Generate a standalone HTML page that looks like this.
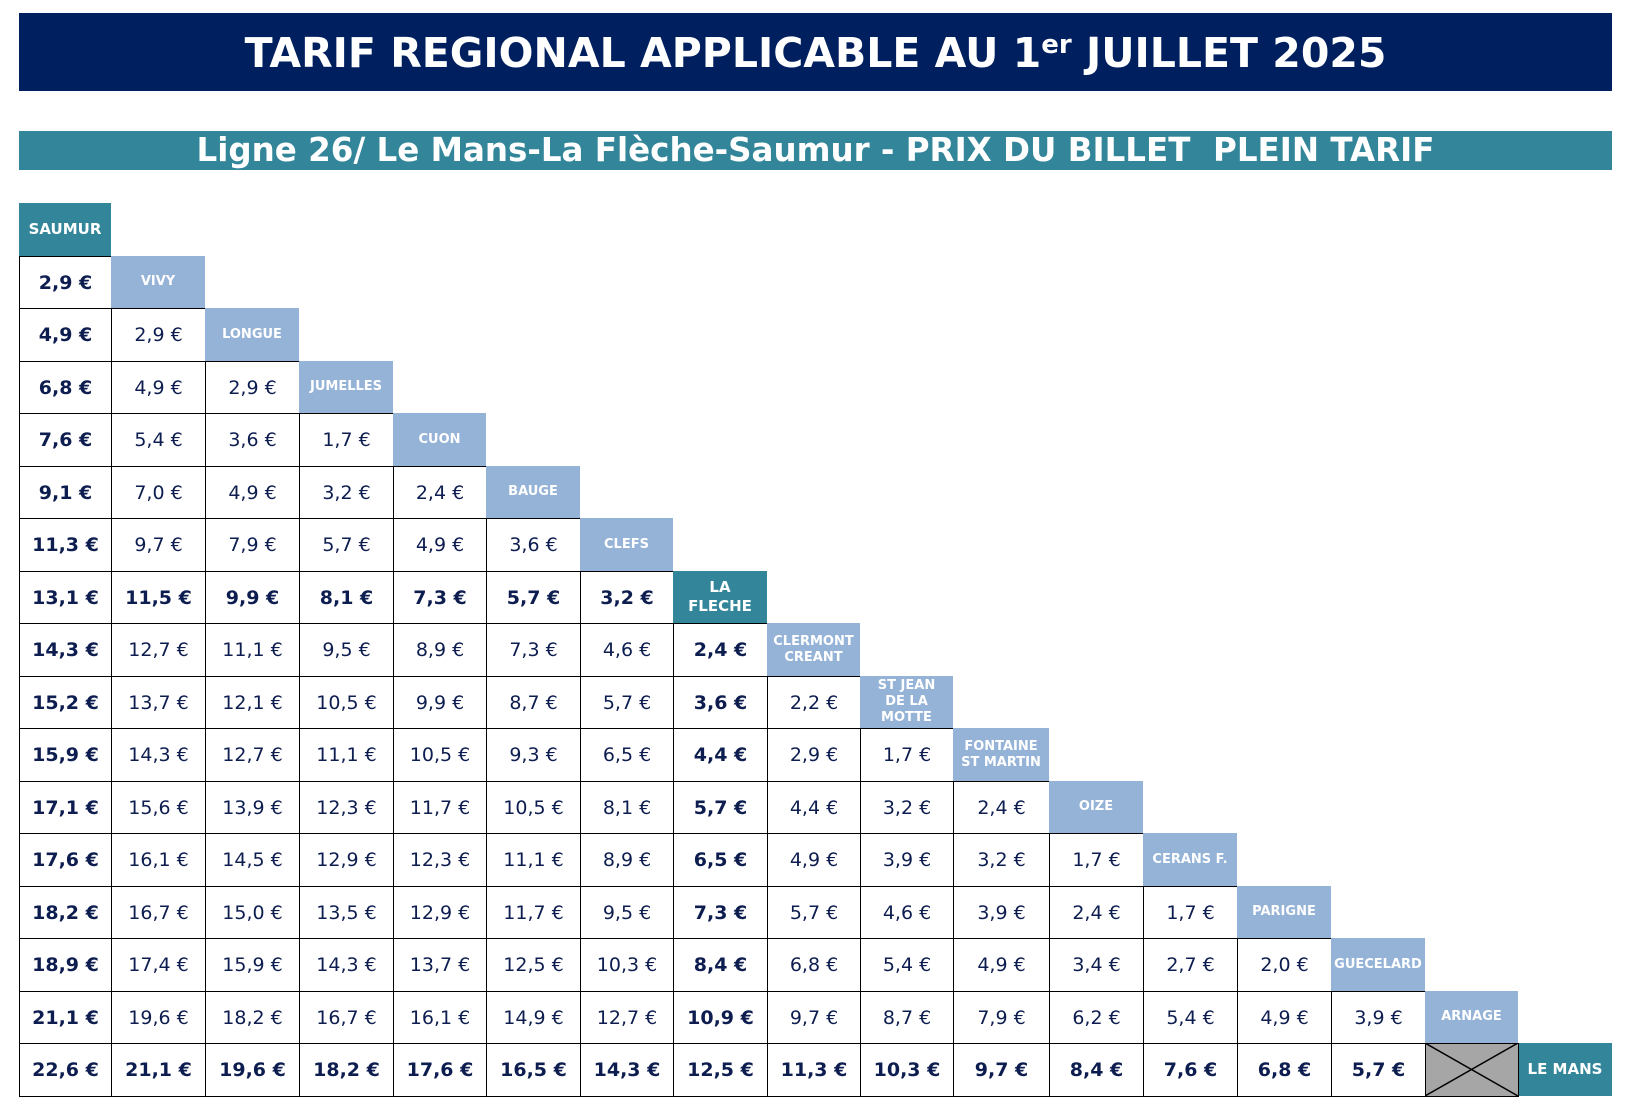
<!DOCTYPE html>
<html><head><meta charset="utf-8">
<style>
body{margin:0;width:1639px;height:1111px;background:#fff;position:relative;overflow:hidden;font-family:"DejaVu Sans","Liberation Sans",sans-serif}
.bar{position:absolute;left:19px;width:1593px;color:#fff;font-weight:bold;text-align:center;white-space:nowrap}
.c{position:absolute;box-sizing:border-box;display:flex;align-items:center;justify-content:center;text-align:center;color:#0d1d4f;font-size:19px}
.d{border:1px solid #000;background:#fff}
.b{font-weight:bold}
.h{color:#fff;font-weight:bold;font-size:13px;line-height:16px}
.lb{background:#95b3d7}
.tl{background:#33869a;font-size:15px;line-height:19px}
</style></head><body>
<div class="bar" style="top:13px;height:78px;background:#001f5f;font-size:41px;line-height:80px">TARIF REGIONAL APPLICABLE AU 1<sup style="font-size:26px;vertical-align:14px;line-height:0">er</sup> JUILLET 2025</div>
<div class="bar" style="top:131px;height:39px;background:#33869a;font-size:32.5px;line-height:39px">Ligne 26/ Le Mans-La Flèche-Saumur - PRIX DU BILLET&nbsp; PLEIN TARIF</div>
<div id="g"></div>
<script>
var X=[19,111,205,299,393,486,580,673,767,860,953,1049,1143,1237,1331,1425,1518,1612];
var Y=[];for(var i=0;i<=17;i++)Y.push(Math.round(203+i*52.5));
var st=["SAUMUR","VIVY","LONGUE","JUMELLES","CUON","BAUGE","CLEFS","LA<br>FLECHE","CLERMONT<br>CREANT","ST JEAN<br>DE LA<br>MOTTE","FONTAINE<br>ST MARTIN","OIZE","CERANS F.","PARIGNE","GUECELARD","ARNAGE","LE MANS"];
var rows=[[],
["2,9"],
["4,9","2,9"],
["6,8","4,9","2,9"],
["7,6","5,4","3,6","1,7"],
["9,1","7,0","4,9","3,2","2,4"],
["11,3","9,7","7,9","5,7","4,9","3,6"],
["13,1","11,5","9,9","8,1","7,3","5,7","3,2"],
["14,3","12,7","11,1","9,5","8,9","7,3","4,6","2,4"],
["15,2","13,7","12,1","10,5","9,9","8,7","5,7","3,6","2,2"],
["15,9","14,3","12,7","11,1","10,5","9,3","6,5","4,4","2,9","1,7"],
["17,1","15,6","13,9","12,3","11,7","10,5","8,1","5,7","4,4","3,2","2,4"],
["17,6","16,1","14,5","12,9","12,3","11,1","8,9","6,5","4,9","3,9","3,2","1,7"],
["18,2","16,7","15,0","13,5","12,9","11,7","9,5","7,3","5,7","4,6","3,9","2,4","1,7"],
["18,9","17,4","15,9","14,3","13,7","12,5","10,3","8,4","6,8","5,4","4,9","3,4","2,7","2,0"],
["21,1","19,6","18,2","16,7","16,1","14,9","12,7","10,9","9,7","8,7","7,9","6,2","5,4","4,9","3,9"],
["22,6","21,1","19,6","18,2","17,6","16,5","14,3","12,5","11,3","10,3","9,7","8,4","7,6","6,8","5,7"]];
var h="";
function cell(c,r,cls,t,extra){h+='<div class="c '+cls+'" style="left:'+X[c]+'px;top:'+Y[r]+'px;width:'+(X[c+1]-X[c]+(cls.indexOf('d')>=0?1:0))+'px;height:'+(Y[r+1]-Y[r]+(cls.indexOf('d')>=0?1:0))+'px;'+(extra||'')+'">'+t+'</div>';}
for(var r=1;r<=16;r++){for(var c=0;c<rows[r].length;c++){var b=(c==0||r==7||c==7||r==16)?" b":"";cell(c,r,"d"+b,rows[r][c]+" €");}}
for(var k=0;k<16;k++){var teal=(k==0||k==7);cell(k,k,"h "+(teal?"tl":"lb"),st[k],k==0?"font-size:15px":"");}
cell(16,16,"h tl","LE MANS");
h+='<svg style="position:absolute;left:'+X[15]+'px;top:'+Y[16]+'px" width="'+(X[16]-X[15]+1)+'" height="'+(Y[17]-Y[16]+1)+'"><rect x="0.5" y="0.5" width="'+(X[16]-X[15])+'" height="'+(Y[17]-Y[16])+'" fill="#a6a6a6" stroke="#000"/><line x1="0" y1="0" x2="'+(X[16]-X[15])+'" y2="'+(Y[17]-Y[16])+'" stroke="#000" stroke-width="1.5"/><line x1="0" y1="'+(Y[17]-Y[16])+'" x2="'+(X[16]-X[15])+'" y2="0" stroke="#000" stroke-width="1.5"/></svg>';
document.getElementById("g").innerHTML=h;
</script>
</body></html>
